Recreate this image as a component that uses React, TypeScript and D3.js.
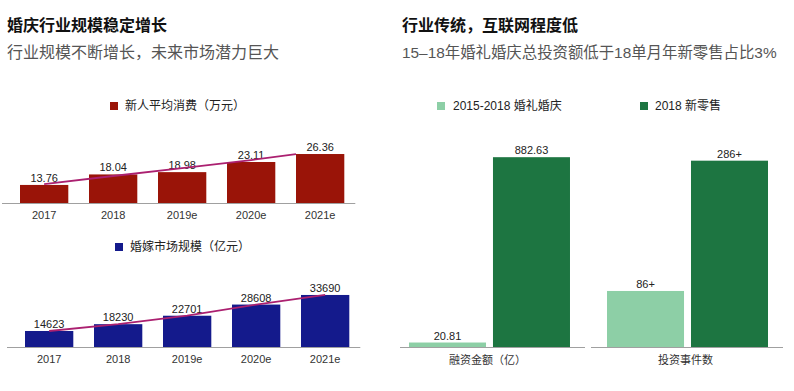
import { scaleBand, scaleLinear, line as d3Line } from "d3";

const years = ["2017", "2018", "2019e", "2020e", "2021e"];
const spendValues = [13.76, 18.04, 18.98, 23.11, 26.36];
const spendTrend = [14.1, 17.4, 20.6, 23.9, 26.3];
const marketValues = [14623, 18230, 22701, 28608, 33690];

const groups = ["融资金额（亿）", "投资事件数"];
const seriesNames = ["2015-2018 婚礼婚庆", "2018 新零售"];
const investValues = [
  [20.81, 882.63],
  [86, 286],
];
const investLabels = [
  ["20.81", "882.63"],
  ["86+", "286+"],
];
const groupAxisMax = [930, 307];

const FONT = "'Liberation Sans', 'Noto Sans CJK SC', sans-serif";
const RED = "#9a1408";
const NAVY = "#141a8c";
const TREND = "#ab2070";
const LIGHT_GREEN = "#8dcfa6";
const DARK_GREEN = "#1d7541";
const AXIS = "#a0a0a0";

interface BarPanelProps {
  values: number[];
  trend: number[];
  color: string;
  legend: string;
  range: [number, number];
  domain: [number, number];
  yRange: [number, number];
  legendX: number;
  legendY: number;
  trendEndAtStart: boolean;
}

const BarPanel = ({
  values,
  trend,
  color,
  legend,
  range,
  domain,
  yRange,
  legendX,
  legendY,
  trendEndAtStart,
}: BarPanelProps) => {
  const x = scaleBand<string>().domain(years).range(range).paddingInner(0.3).paddingOuter(0);
  const y = scaleLinear().domain(domain).range(yRange);
  const base = yRange[0];
  const pts = trend.map((v, i) => {
    const last = i === trend.length - 1;
    const px = last && trendEndAtStart ? (x(years[i]) ?? 0) : (x(years[i]) ?? 0) + x.bandwidth() / 2;
    return [px, y(v)] as [number, number];
  });
  const path = d3Line()(pts) ?? "";
  return (
    <g>
      <rect x={legendX} y={legendY - 4} width={8} height={8} fill={color} />
      <text x={legendX + 15} y={legendY + 4} fontSize={12} fill="#222">
        {legend}
      </text>
      <line x1={range[0] - 18} x2={range[1] + 11} y1={base + 0.5} y2={base + 0.5} stroke={AXIS} />
      {years.map((yr, i) => (
        <g key={yr}>
          <rect
            x={x(yr)}
            y={y(values[i])}
            width={x.bandwidth()}
            height={base - y(values[i])}
            fill={color}
          />
          <text
            x={(x(yr) ?? 0) + x.bandwidth() / 2}
            y={y(values[i]) - 3}
            textAnchor="middle"
            fontSize={11}
            fill="#222"
          >
            {values[i]}
          </text>
          <text
            x={(x(yr) ?? 0) + x.bandwidth() / 2}
            y={base + 16}
            textAnchor="middle"
            fontSize={11}
            fill="#333"
          >
            {yr}
          </text>
        </g>
      ))}
      <path d={path} fill="none" stroke={TREND} strokeWidth={1.8} />
    </g>
  );
};

const InvestPanel = () => {
  const outer = scaleBand<string>().domain(groups).range([409, 768]).paddingInner(0.187).paddingOuter(0);
  const inner = scaleBand<string>().domain(seriesNames).range([0, outer.bandwidth()]).paddingInner(0.083);
  const colors = [LIGHT_GREEN, DARK_GREEN];
  const base = 347;
  return (
    <g>
      {seriesNames.map((s, i) => (
        <g key={s}>
          <rect x={i === 0 ? 437 : 640} y={102} width={8} height={8} fill={colors[i]} />
          <text x={i === 0 ? 453 : 655} y={110} fontSize={12} fill="#222">
            {s}
          </text>
        </g>
      ))}
      {groups.map((g, gi) => {
        const y = scaleLinear().domain([0, groupAxisMax[gi]]).range([base, base - 200]);
        const gx = outer(g) ?? 0;
        return (
          <g key={g}>
            <line
              x1={gx - (gi === 0 ? 9 : 16)}
              x2={gx + outer.bandwidth() + 15}
              y1={base + 0.5}
              y2={base + 0.5}
              stroke={AXIS}
            />
            {seriesNames.map((s, si) => {
              const v = investValues[gi][si];
              const bx = gx + (inner(s) ?? 0);
              return (
                <g key={s}>
                  <rect x={bx} y={y(v)} width={inner.bandwidth()} height={base - y(v)} fill={colors[si]} />
                  <text
                    x={bx + inner.bandwidth() / 2}
                    y={y(v) - 3}
                    textAnchor="middle"
                    fontSize={11}
                    fill="#222"
                  >
                    {investLabels[gi][si]}
                  </text>
                </g>
              );
            })}
            <text
              x={gx + outer.bandwidth() / 2 - 2}
              y={base + 17}
              textAnchor="middle"
              fontSize={11}
              fill="#333"
            >
              {g}
            </text>
          </g>
        );
      })}
    </g>
  );
};

export default function App() {
  return (
    <svg
      width={794}
      height={391}
      viewBox="0 0 794 391"
      style={{ position: "absolute", left: 0, top: 0, background: "#fff" }}
      fontFamily={FONT}
    >
      <rect width={794} height={391} fill="#fff" />
      <text x={7} y={31} fontSize={16} fontWeight="bold" fill="#111">
        婚庆行业规模稳定增长
      </text>
      <text x={7} y={58} fontSize={16} fill="#555">
        行业规模不断增长，未来市场潜力巨大
      </text>
      <text x={402} y={31} fontSize={16} fontWeight="bold" fill="#111">
        行业传统，互联网程度低
      </text>
      <text x={402} y={58} fontSize={15.4} fill="#555">
        15–18年婚礼婚庆总投资额低于18单月年新零售占比3%
      </text>

      <BarPanel
        values={spendValues}
        trend={spendTrend}
        color={RED}
        legend="新人平均消费（万元）"
        range={[20, 344.3]}
        domain={[6.4, 28]}
        yRange={[203, 150]}
        legendX={110}
        legendY={106}
        trendEndAtStart={true}
      />
      <BarPanel
        values={marketValues}
        trend={marketValues}
        color={NAVY}
        legend="婚嫁市场规模（亿元）"
        range={[25, 349.3]}
        domain={[6149, 36000]}
        yRange={[347, 290.6]}
        legendX={115}
        legendY={247}
        trendEndAtStart={false}
      />
      <InvestPanel />
    </svg>
  );
}
